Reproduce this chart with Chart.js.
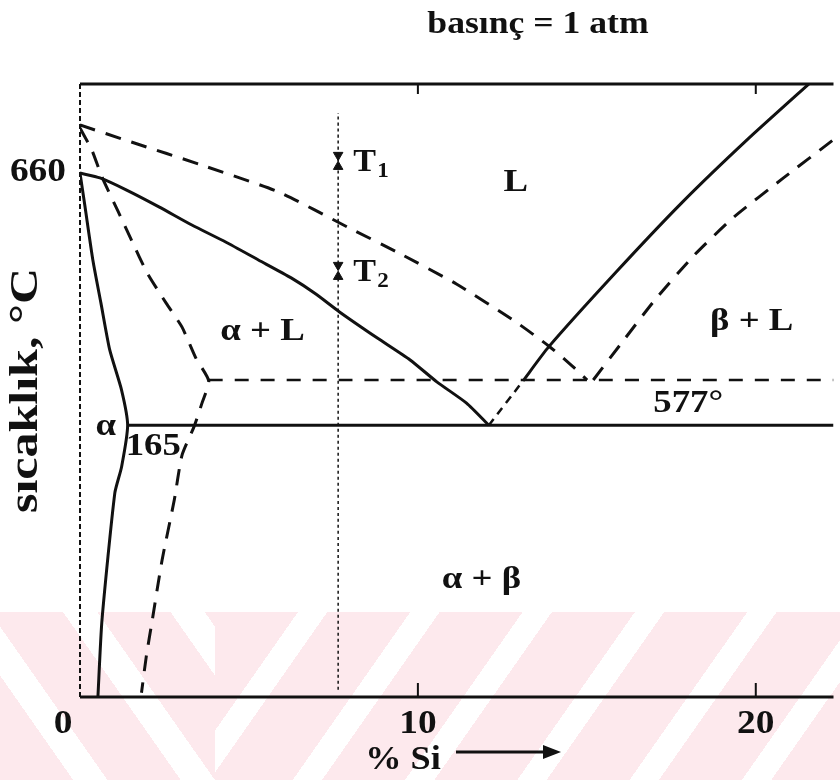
<!DOCTYPE html>
<html lang="tr">
<head>
    <meta charset="UTF-8">
    <title>Al-Si faz diyagramı</title>
    <style>
        html, body {
            margin: 0;
            padding: 0;
            background: #fff;
        }
        #kutu {
            position: relative;
            width: 840px;
            height: 780px;
            overflow: hidden;
        }
        /* soluk pembe filigran */
        #filigran-sol, #filigran-sag {
            position: absolute;
            top: 612px;
            height: 168px;
        }
        #filigran-sol {
            left: 0;
            width: 215px;
            background: repeating-linear-gradient(55deg, #fde9ed 0 60px, #fff 60px 88px);
        }
        #filigran-sag {
            left: 215px;
            width: 625px;
            background: repeating-linear-gradient(125deg, #fde9ed 0 68px, #fff 68px 92px);
        }
        canvas {
            position: absolute;
            left: 0;
            top: 0;
        }
    </style>
    <script src="https://cdn.jsdelivr.net/npm/chart.js"></script>
</head>
<body>
<div id="kutu">
    <div id="filigran-sol"></div>
    <div id="filigran-sag"></div>
    <canvas id="grafik" width="840" height="780"></canvas>
</div>
<script>
    // eğriler: [% Si, sıcaklık °C]
    const likidusAl = [[0, 660], [0.59, 658.4], [1.38, 654.4], [2.35, 648.8], [3.31, 642.9], [4.31, 637.3],
        [5.28, 631.4], [6.25, 625.5], [6.98, 620.2], [7.68, 614.3], [8.80, 605.7], [9.77, 598.5],
        [10.56, 591.3], [11.44, 584.3], [12.1, 577]];
    const likidusSi = [[13.11, 591.6], [13.87, 602.8], [15.84, 627.1], [17.80, 650.1], [19.74, 670.9], [21.70, 690.6]];
    const likidusSiAlt = [[12.1, 577], [13.11, 591.6]];
    const solidusAl = [[0, 660], [0.15, 648.8], [0.38, 631.4], [0.62, 617.2], [0.88, 601.8], [1.23, 588.6],
        [1.41, 577], [1.23, 563.3], [1.03, 554.7], [0.65, 512.8], [0.53, 487.6]];
    const otektik = [[1.41, 577], [22.3, 577]];

    // dengesiz (kesikli) eğriler
    const likidusKesik = [[0, 675.8], [1.52, 670.2], [3.61, 662.6], [5.87, 653.8], [7.92, 642.2], [9.38, 634.0],
        [11.14, 623.5], [12.90, 611.0], [13.87, 603.1], [14.57, 596.5], [15.01, 591.9]];
    const solidusKesik = [[0, 674.8], [0.35, 667.6], [0.65, 658.7], [1.11, 647.8], [1.52, 638.0], [1.99, 627.1],
        [2.55, 617.2], [3.02, 609.3], [3.43, 599.1], [3.81, 591.6], [3.61, 584.3], [3.37, 576.4],
        [3.02, 567.2], [2.79, 552.4], [2.43, 532.7], [2.14, 513.0], [1.96, 500.8], [1.82, 489.0]];
    const otektikKesik = [[3.81, 591.9], [22.3, 591.9]];
    const siKesik = [[15.19, 591.9], [15.98, 603.4], [17.01, 618.2], [18.18, 633.0], [19.35, 645.5],
        [20.82, 658.4], [22.29, 670.9]];

    // alaşım dikey çizgisi ve T1, T2 sıcaklıkları
    const alasimSi = 7.64;
    const alasimAraligi = [490, 679.7];
    const T1 = 664.3;
    const T2 = 628.1;

    const xTikleri = [0, 10, 20];
    const yTikleri = [660];

    const bolgeler = [
        { t: 'L', x: 12.9, y: 656.7 },
        { t: 'α + L', x: 5.40, y: 607.7 },
        { t: 'β + L', x: 19.88, y: 611.0 },
        { t: 'α', x: 0.76, y: 576.4 },
        { t: '165', x: 2.17, y: 569.9 },
        { t: '577°', x: 18.0, y: 584.0 },
        { t: 'α + β', x: 11.88, y: 526.1 }
    ];

    const FONT = '"Liberation Serif", "Times New Roman", serif';
    const MUREKKEP = '#111';

    // sx: yazıyı kendi doğrultusunda genişletme oranı
    function yaz(ctx, metin, x, y, boyut, hiza, sx) {
        ctx.save();
        ctx.translate(x, y);
        ctx.scale(sx || 1.2, 1);
        ctx.font = 'bold ' + boyut + 'px ' + FONT;
        ctx.fillStyle = MUREKKEP;
        ctx.textAlign = hiza || 'center';
        ctx.textBaseline = 'middle';
        ctx.fillText(metin, 0, 0);
        ctx.restore();
    }

    function seri(veri, dash, kalinlik) {
        return {
            data: veri.map(p => ({ x: p[0], y: p[1] })),
            showLine: true,
            borderColor: MUREKKEP,
            borderWidth: kalinlik || 3,
            borderDash: dash || [],
            pointRadius: 0,
            tension: 0.2,
            fill: false
        };
    }

    // çerçeve ve eksen çentikleri
    const cerceve = {
        id: 'cerceve',
        afterDatasetsDraw(chart) {
            const { ctx, chartArea: a, scales: { x } } = chart;
            ctx.save();
            ctx.strokeStyle = MUREKKEP;
            ctx.lineWidth = 3;
            ctx.beginPath();
            ctx.moveTo(a.left, a.top); ctx.lineTo(a.right, a.top);
            ctx.moveTo(a.left, a.bottom); ctx.lineTo(a.right, a.bottom);
            ctx.stroke();
            ctx.lineWidth = 2;
            ctx.beginPath();
            xTikleri.filter(v => v > 0).forEach(v => {
                const px = x.getPixelForValue(v);
                ctx.moveTo(px, a.bottom); ctx.lineTo(px, a.bottom - 14);
                ctx.moveTo(px, a.top); ctx.lineTo(px, a.top + 10);
            });
            ctx.stroke();
            ctx.setLineDash([5, 3]);
            ctx.beginPath();
            ctx.moveTo(a.left, a.top); ctx.lineTo(a.left, a.bottom);
            ctx.stroke();
            ctx.restore();
        }
    };

    // başlık, eksen yazıları ve bölge adları
    const metinler = {
        id: 'metinler',
        afterDraw(chart) {
            const { ctx, chartArea: a, scales: { x, y } } = chart;
            yaz(ctx, 'basınç = 1 atm', 538, 25, 31, 'center', 1.15);

            xTikleri.forEach(v => {
                const px = x.getPixelForValue(v) - (v === 0 ? 17 : 0);
                yaz(ctx, String(v), px, a.bottom + 27, 34, 'center', 1.1);
            });
            yTikleri.forEach(v => yaz(ctx, String(v), a.left - 14, y.getPixelForValue(v) - 1, 34, 'right', 1.1));

            // x ekseni adı ve ok
            yaz(ctx, '% Si', 403, 760, 33, 'center', 1.1);
            ctx.save();
            ctx.strokeStyle = MUREKKEP;
            ctx.fillStyle = MUREKKEP;
            ctx.lineWidth = 3;
            ctx.beginPath();
            ctx.moveTo(456, 752); ctx.lineTo(546, 752);
            ctx.stroke();
            ctx.beginPath();
            ctx.moveTo(561, 752); ctx.lineTo(543, 745); ctx.lineTo(543, 759);
            ctx.closePath();
            ctx.fill();
            ctx.restore();

            // y ekseni adı
            ctx.save();
            ctx.translate(27, (a.top + a.bottom) / 2);
            ctx.rotate(-Math.PI / 2);
            yaz(ctx, 'sıcaklık, °C', 0, 0, 40, 'center', 1.25);
            ctx.restore();

            bolgeler.forEach(b => yaz(ctx, b.t, x.getPixelForValue(b.x), y.getPixelForValue(b.y), 32, 'center', 1.15));

            // T1, T2 etiketleri
            [[T1, '1'], [T2, '2']].forEach(([t, alt]) => {
                const px = x.getPixelForValue(alasimSi) + 15;
                const py = y.getPixelForValue(t) + 3;
                yaz(ctx, 'T', px, py, 31, 'left', 1.1);
                yaz(ctx, alt, px + 24, py + 9, 21, 'left', 1.1);
            });
        }
    };

    const isaretler = (t) => ({
        data: [{ x: alasimSi, y: t + 1.6 }, { x: alasimSi, y: t - 2.2 }],
        showLine: false,
        pointStyle: 'triangle',
        rotation: [180, 0],
        pointRadius: 5.5,
        pointBackgroundColor: MUREKKEP,
        pointBorderColor: MUREKKEP,
        pointBorderWidth: 1
    });

    new Chart(document.getElementById('grafik'), {
        type: 'scatter',
        data: {
            datasets: [
                seri(likidusAl),
                seri(likidusSi),
                seri(likidusSiAlt, [8, 6], 2.5),
                seri(solidusAl),
                seri(otektik),
                seri(likidusKesik, [16, 11]),
                seri(solidusKesik, [16, 11]),
                seri(otektikKesik, [14, 12], 2.5),
                seri(siKesik, [16, 11]),
                seri([[alasimSi, alasimAraligi[0]], [alasimSi, alasimAraligi[1]]], [3, 3], 1.5),
                isaretler(T1),
                isaretler(T2)
            ]
        },
        options: {
            responsive: false,
            animation: false,
            devicePixelRatio: 1,
            layout: { padding: { top: 84, right: 0, left: 0, bottom: 0 } },
            plugins: { legend: { display: false }, tooltip: { enabled: false } },
            scales: {
                x: {
                    type: 'linear', min: 0, max: 22.3,
                    grid: { display: false }, border: { display: false },
                    ticks: { display: false },
                    afterFit(s) { s.height = 83; }
                },
                y: {
                    min: 487.6, max: 689.3,
                    grid: { display: false }, border: { display: false },
                    ticks: { display: false },
                    afterFit(s) { s.width = 80; }
                }
            }
        },
        plugins: [cerceve, metinler]
    });
</script>
</body>
</html>
